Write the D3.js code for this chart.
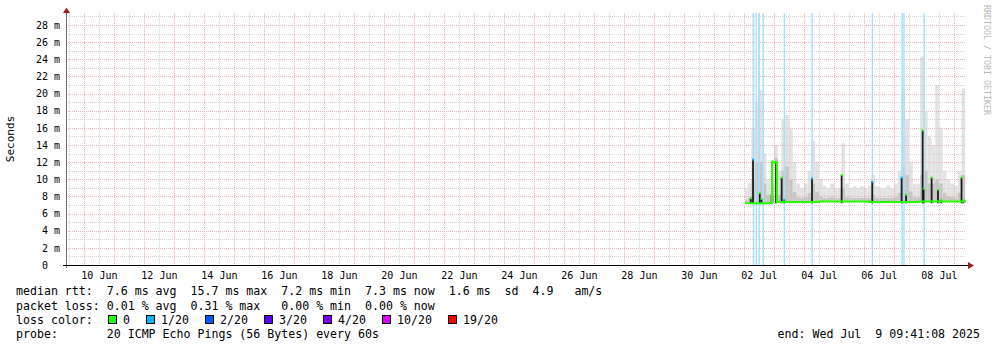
<!DOCTYPE html>
<html>
<head>
<meta charset="utf-8">
<script src="https://cdn.jsdelivr.net/npm/d3@7"></script>
<style>
body { margin: 0; background: #fff; }
svg { display: block; font-family: "DejaVu Sans Mono", monospace; }
</style>
</head>
<body>
<svg width="997" height="347"></svg>
<script>
// time window of the graph (30 days ending at the "end:" stamp)
let startTime = new Date(Date.UTC(2025, 5, 9, 9, 41, 8)),
    endTime = new Date(Date.UTC(2025, 6, 9, 9, 41, 8)),
    hourZero = Date.UTC(2025, 6, 2, 0, 0, 0); // data hours count from 02 Jul 00:00

let xTickDays = ["2025-06-10", "2025-06-12", "2025-06-14", "2025-06-16", "2025-06-18",
    "2025-06-20", "2025-06-22", "2025-06-24", "2025-06-26", "2025-06-28",
    "2025-06-30", "2025-07-02", "2025-07-04", "2025-07-06", "2025-07-08"];
let yTicksMs = [0, 2, 4, 6, 8, 10, 12, 14, 16, 18, 20, 22, 24, 26, 28];

// median rtt (ms), step line
let medianHours = [1, 22.5, 26.5, 60, 100, 140, 177.7];
let medianMs = [7.2, 12.0, 7.35, 7.4, 7.35, 7.4, 7.4];

// smoke, one value per 3 hour block starting at hour 0
let smokeStepHours = 3;
let smokeHiMs = [9.0, 9.5, 16, 19, 20.4, 13, 10, 9.5, 14, 11,
    17, 17.5, 16, 12, 9.5, 9.0, 9.5, 11, 14.5, 12,
    10, 9.2, 9.0, 9.5, 9.0, 9.0, 14.2, 9.5, 9.0, 9.2,
    9.0, 9.2, 9.0, 9.3, 10.5, 9.2, 9.0, 9.0, 9.3, 9.0,
    9.5, 11, 20.4, 17, 12, 9.5, 9.5, 24.3, 18, 15,
    14, 21, 16, 11, 10, 9.5, 9.2, 11, 20.6];
let smokeMidMs = [7.6, 7.8, 10, 12, 12, 9.5, 8.2, 8.0, 12.5, 8.2,
    11, 11.5, 10, 8.5, 7.9, 7.8, 7.9, 8.4, 9.5, 8.5,
    8.0, 7.8, 7.8, 7.9, 7.8, 7.8, 9.0, 7.9, 7.8, 7.8,
    7.8, 7.8, 7.8, 7.8, 8.2, 7.8, 7.8, 7.8, 7.8, 7.8,
    7.9, 8.4, 11.5, 10.5, 8.6, 7.9, 7.9, 10.5, 11, 9.5,
    9.5, 10, 9.5, 8.4, 8.0, 7.9, 7.8, 8.4, 10.5];

// thin smoke plumes reaching far up
let plumeHours = [7.5, 11.8];
let plumeTopMs = [29.4, 29.4];

// dense (dark) bars where the median jumped
let spikeHours = [5.5, 7.3, 12.7, 14.1, 22.2, 22.7, 25.7, 30.2, 32.3, 54.5, 78.2,
    102.7, 126.2, 129.7, 143.0, 143.8, 150.2, 155.3, 157.8, 174.1, 175.5];
let spikeTopMs = [7.8, 12.3, 8.4, 7.7, 8.2, 12.1, 12.0, 10.2, 7.6, 10.1, 10.5,
    9.7, 10.2, 8.2, 15.7, 8.9, 10.2, 8.8, 7.6, 10.2, 7.6];
let spikeLoss = [0, 1, 0, 0, 0, 0, 0, 0, 1, 1, 0,
    1, 1, 0, 0, 0, 0, 0, 0, 0, 0];

// steps with 1/20 packet loss
let lossHours = [7.7, 9.9, 12.2, 15.5, 32.4, 54.6, 102.8, 126.6, 128.1, 144.2];

let lossLabels = ["0", "1/20", "2/20", "3/20", "4/20", "10/20", "19/20"];
let lossColors = ["#26ff00", "#00b8ff", "#0059ff", "#5e00ff", "#7e00ff", "#dd00ff", "#ff0000"];

let legendLines = [
    "median rtt:  7.6 ms avg  15.7 ms max  7.2 ms min  7.3 ms now  1.6 ms  sd  4.9   am/s",
    "packet loss: 0.01 % avg  0.31 % max   0.00 % min  0.00 % now",
    "loss color:",
    "probe:       20 ICMP Echo Pings (56 Bytes) every 60s"
];
let endText = "end: Wed Jul  9 09:41:08 2025";

let svg = d3.select("svg"),
    plotLeft = 66,
    plotRight = 966,
    plotTop = 13,
    plotBottom = 265;

let x = d3.scaleUtc().domain([startTime, endTime]).range([plotLeft, plotRight]);
let y = d3.scaleLinear().domain([0, 28]).range([plotBottom, 25]);
let atHour = h => new Date(hourZero + h * 3600e3);

svg.append("rect").attr("width", 997).attr("height", 347).attr("fill", "#fff");

let plot = svg.append("g");

// smoke
let smokeBlocks = smokeHiMs.map((hi, i) => {
    let h0 = i * smokeStepHours, h1 = Math.min(h0 + smokeStepHours, 177.7);
    let base = medianMs[d3.bisectRight(medianHours, h0) - 1] || medianMs[0];
    return {h0: Math.max(h0, 1), h1: h1, hi: hi, mid: smokeMidMs[i], base: base};
});
plot.selectAll(".smoke-hi").data(smokeBlocks).enter().append("rect")
    .attr("x", d => x(atHour(d.h0)))
    .attr("width", d => x(atHour(d.h1)) - x(atHour(d.h0)))
    .attr("y", d => y(d.hi))
    .attr("height", d => y(d.base) - y(d.hi))
    .attr("fill", "#e2e2e2");
plot.selectAll(".smoke-mid").data(smokeBlocks).enter().append("rect")
    .attr("x", d => x(atHour(d.h0)))
    .attr("width", d => x(atHour(d.h1)) - x(atHour(d.h0)))
    .attr("y", d => y(d.mid))
    .attr("height", d => y(d.base) - y(d.mid))
    .attr("fill", "#c6c6c6");

plot.selectAll(".plume").data(plumeHours).enter().append("rect")
    .attr("x", d => x(atHour(d)) - 0.6)
    .attr("width", 1.2)
    .attr("y", (d, i) => y(plumeTopMs[i]))
    .attr("height", (d, i) => y(7.2) - y(plumeTopMs[i]))
    .attr("fill", "#d6d6d6");

// grid
let grid = svg.append("g").attr("fill", "none").attr("stroke-width", 1);
let minorX = d3.utcHour.every(12).range(startTime, endTime);
let majorX = d3.utcDay.range(startTime, endTime);
grid.selectAll(".gx").data(minorX).enter().append("line")
    .attr("x1", d => Math.round(x(d)) + 0.5).attr("x2", d => Math.round(x(d)) + 0.5)
    .attr("y1", plotTop).attr("y2", plotBottom)
    .attr("stroke", "#d4d4d4").attr("stroke-dasharray", "1,1");
let minorY = d3.range(1, 30, 1);
grid.selectAll(".gy").data(minorY).enter().append("line")
    .attr("x1", plotLeft).attr("x2", plotRight)
    .attr("y1", d => Math.round(y(d)) + 0.5).attr("y2", d => Math.round(y(d)) + 0.5)
    .attr("stroke", "#d4d4d4").attr("stroke-dasharray", "1,1");
grid.selectAll(".mx").data(majorX).enter().append("line")
    .attr("x1", d => Math.round(x(d)) + 0.5).attr("x2", d => Math.round(x(d)) + 0.5)
    .attr("y1", plotTop).attr("y2", plotBottom)
    .attr("stroke", "#eeb4b4").attr("stroke-dasharray", "1,1");
grid.selectAll(".my").data(yTicksMs.filter(d => d > 0)).enter().append("line")
    .attr("x1", plotLeft).attr("x2", plotRight)
    .attr("y1", d => Math.round(y(d)) + 0.5).attr("y2", d => Math.round(y(d)) + 0.5)
    .attr("stroke", "#eeb4b4").attr("stroke-dasharray", "1,1");

// loss background bars
svg.selectAll(".lossbar").data(lossHours).enter().append("rect")
    .attr("x", d => x(atHour(d)) - 0.7)
    .attr("width", 1.4)
    .attr("y", plotTop)
    .attr("height", plotBottom - plotTop)
    .attr("fill", "#a4dfff");

// dark spikes
let spikes = spikeHours.map((h, i) => ({h: h, top: spikeTopMs[i], loss: spikeLoss[i]}));
svg.selectAll(".spike").data(spikes).enter().append("rect")
    .attr("x", d => x(atHour(d.h)) - 0.9)
    .attr("width", 1.8)
    .attr("y", d => y(d.top))
    .attr("height", d => y(7.2) - y(d.top))
    .attr("fill", "#1e1e1e");

// median line
let medianPts = medianHours.map((h, i) => [atHour(h), medianMs[i]]);
svg.append("path")
    .datum(medianPts)
    .attr("fill", "none")
    .attr("stroke", lossColors[0])
    .attr("stroke-width", 2)
    .attr("d", d3.line().curve(d3.curveStepAfter).x(d => x(d[0])).y(d => y(d[1])));

svg.selectAll(".spike-top").data(spikes).enter().append("rect")
    .attr("x", d => x(atHour(d.h)) - 1)
    .attr("width", 2)
    .attr("y", d => y(d.top) - 1)
    .attr("height", 2)
    .attr("fill", d => lossColors[d.loss]);

// axes
let gx = svg.append("g")
    .attr("transform", "translate(0," + plotBottom + ")")
    .call(d3.axisBottom(x)
        .tickValues(xTickDays.map(s => new Date(s + "T12:00:00Z")))
        .tickFormat(d3.utcFormat("%d %b"))
        .tickSize(0)
        .tickPadding(7));
gx.select(".domain").remove();
gx.selectAll("text").attr("font-family", "DejaVu Sans Mono").attr("font-size", 10).attr("fill", "#000");

let gy = svg.append("g")
    .attr("transform", "translate(" + plotLeft + ",0)")
    .call(d3.axisLeft(y)
        .tickValues(yTicksMs)
        .tickFormat(d => d ? d + " m" : "0  ")
        .tickSize(0)
        .tickPadding(6));
gy.select(".domain").remove();
gy.selectAll("text").attr("font-family", "DejaVu Sans Mono").attr("font-size", 10)
    .attr("fill", "#000").style("white-space", "pre");

svg.append("line")
    .attr("x1", plotLeft + 0.5).attr("x2", plotLeft + 0.5)
    .attr("y1", 12).attr("y2", plotBottom + 3)
    .attr("stroke", "#6a6a6a");
svg.append("line")
    .attr("x1", plotLeft - 3).attr("x2", 969)
    .attr("y1", plotBottom + 0.5).attr("y2", plotBottom + 0.5)
    .attr("stroke", "#000");
svg.append("path")
    .attr("d", "M63,13 L66.5,7.5 L70,13 Z")
    .attr("fill", "#a01818");
svg.append("path")
    .attr("d", "M968,262 L974,265.5 L968,269 Z")
    .attr("fill", "#a01818");

// titles
svg.append("text")
    .attr("transform", "translate(14,139) rotate(-90)")
    .attr("text-anchor", "middle")
    .attr("font-family", "DejaVu Sans Mono")
    .attr("font-size", 11)
    .text("Seconds");
svg.append("text")
    .attr("transform", "translate(984,60) rotate(90)")
    .attr("text-anchor", "middle")
    .attr("font-family", "DejaVu Sans Mono")
    .attr("font-size", 8.3)
    .attr("fill", "#b8b8b8")
    .text("RRDTOOL / TOBI OETIKER");

// legend
let legend = svg.append("g")
    .attr("font-family", "DejaVu Sans Mono")
    .attr("font-size", 11.6)
    .attr("fill", "#000");
let rowY = [295, 309.5, 323.5, 338];
legendLines.forEach((s, i) => {
    legend.append("text")
        .attr("x", 16)
        .attr("y", rowY[i])
        .style("white-space", "pre")
        .text(s);
});
legend.append("text")
    .attr("x", 980)
    .attr("y", rowY[3])
    .attr("text-anchor", "end")
    .style("white-space", "pre")
    .text(endText);

let bx = 108;
lossLabels.forEach((lab, i) => {
    legend.append("rect")
        .attr("x", bx + 0.5).attr("y", 315.5)
        .attr("width", 8).attr("height", 8)
        .attr("fill", lossColors[i])
        .attr("stroke", "#000");
    legend.append("text")
        .attr("x", bx + 15)
        .attr("y", rowY[2])
        .text(lab);
    bx += 15 + lab.length * 7 + 16;
});
</script>
</body>
</html>
